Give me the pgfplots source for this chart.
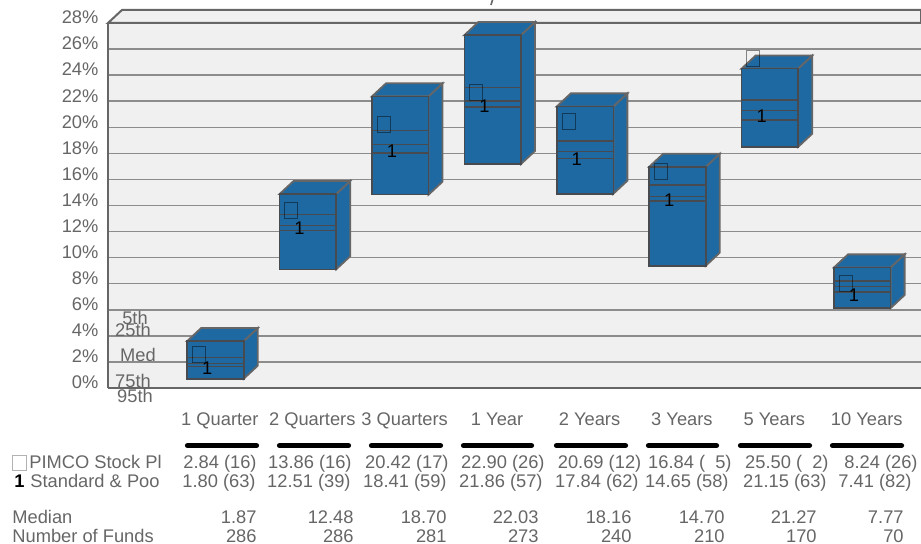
\documentclass[border=0pt]{standalone}
\usepackage{fontspec}
\setmainfont{Liberation Sans}
\usepackage{pgfplots}
\pgfplotsset{compat=1.18}
\usetikzlibrary{plotmarks}

\definecolor{wall}{HTML}{F0F0F0}
\definecolor{gridc}{HTML}{8C8C8C}
\definecolor{axisc}{HTML}{666666}
\definecolor{labelc}{HTML}{666666}
\definecolor{boxfill}{HTML}{1F69A3}
\definecolor{boxedge}{HTML}{474B50}

% tall hollow square, sits a little under the value like the source glyph
\pgfdeclareplotmark{tallsq}{%
  \pgfpathrectangle{\pgfpoint{-3.25pt}{-5.5pt}}{\pgfpoint{6.5pt}{8pt}}%
  \pgfusepathqstroke}

% x, 5th, 25th, median, 75th, 95th
\newcommand{\fundbox}[6]{%
  \addplot[fill=boxfill,draw=axisc,line width=0.9pt] coordinates
    {({#1+0.306},#2) ({#1+0.4575},{#2+1}) ({#1+0.4575},{#6+1}) ({#1+0.306},#6)} --cycle;
  \addplot[fill=boxfill,draw=axisc,line width=0.9pt] coordinates
    {({#1-0.306},#2) ({#1-0.1545},{#2+1}) ({#1+0.4575},{#2+1}) ({#1+0.306},#2)} --cycle;
  \addplot[fill=boxfill,draw=boxedge,line width=0.8pt] coordinates
    {({#1-0.306},#6) ({#1-0.306},#2) ({#1+0.306},#2) ({#1+0.306},#6)} --cycle;
  \addplot[draw=boxedge,line width=0.7pt] coordinates {({#1-0.306},#3) ({#1+0.306},#3)};
  \addplot[draw=boxedge,line width=0.7pt] coordinates {({#1-0.306},#4) ({#1+0.306},#4)};
  \addplot[draw=boxedge,line width=0.7pt] coordinates {({#1-0.306},#5) ({#1+0.306},#5)};
}

\begin{document}
\begin{tikzpicture}[font=\fontsize{9.15}{10}\selectfont]
\path[use as bounding box] (0,0) rectangle (460.5pt,272pt);
\begin{axis}[
    at={(54pt,78pt)},
    anchor=south west,
    scale only axis,
    width=406.5pt,
    height=182.5pt,
    xmin=-1.163, xmax=7.635,
    ymin=0, ymax=28,
    clip=false,
    axis lines*=left,
    axis line style={-,draw=axisc,line width=1.25pt},
    axis background/.style={fill=wall},
    xtick={0,...,7},
    xticklabels={1 Quarter,2 Quarters,3 Quarters,1 Year,2 Years,3 Years,5 Years,10 Years},
    ytick={0,2,...,28},
    yticklabel={\pgfmathprintnumber{\tick}\%},
    /pgf/number format/assume math mode=true,
    major tick length=0pt,
    ymajorgrids,
    major grid style={draw=gridc,line width=0.75pt},
    tick label style={text=labelc},
    yticklabel style={anchor=east,inner sep=0pt,xshift=-4.6pt,yshift=2.75pt},
    xticklabel style={anchor=base,inner sep=0pt,xshift=2.2pt,yshift=-19pt},
  ]
% top of the back wall
\addplot[fill=wall,draw=axisc,line width=1pt] coordinates
  {(-1.163,28) (-1.0115,29) (7.635,29) (7.635,28)} --cycle;

% x, 5th, 25th, median, 75th, 95th
\fundbox{0}{3.60}{2.35}{1.87}{1.65}{0.71}
\fundbox{1}{14.88}{13.32}{12.48}{12.07}{9.10}
\fundbox{2}{22.37}{19.73}{18.70}{18.02}{14.83}
\fundbox{3}{27.07}{23.03}{22.03}{21.57}{17.18}
\fundbox{4}{21.60}{18.94}{18.16}{17.60}{14.90}
\fundbox{5}{16.97}{15.57}{14.70}{14.34}{9.38}
\fundbox{6}{24.50}{22.10}{21.27}{20.55}{18.50}
\fundbox{7}{9.25}{8.20}{7.77}{7.36}{6.13}

% PIMCO Stock Pl
\addplot[only marks,mark=tallsq,mark options={line width=0.45pt,draw=black,draw opacity=0.45}] coordinates
  {(-0.18,2.84) (0.82,13.86) (1.82,20.42) (2.82,22.90) (3.82,20.69) (4.82,16.84) (5.82,25.50) (6.82,8.24)};
% Standard & Poor's
\addplot[only marks,mark=text,text mark={1},text mark as node=true,
    mark options={text=black,yshift=-1.8pt}] coordinates
  {(-0.09,1.80) (0.91,12.51) (1.91,18.41) (2.91,21.86) (3.91,17.84) (4.91,14.65) (5.91,21.15) (6.91,7.41)};
\end{axis}

\begin{scope}[shift={(0,272pt)},x=0.5pt,y=-0.5pt,
    every node/.style={inner sep=0pt,text=labelc}]
  % tail of the title cut off at the top edge
  \draw[labelc,line width=0.8pt] (491,5) -- (492.5,0);

  % percentile key
  \node[anchor=base] at (135,325) {5th};
  \node[anchor=base] at (133,337) {25th};
  \node[anchor=base] at (138,362) {Med};
  \node[anchor=base] at (133,388) {75th};
  \node[anchor=base] at (135,402.5) {95th};

  % rules under the period names
  \foreach \a/\b in {186/258,278/350,370/442,462/533,555/627,647/718,739/811,831/903}
    \draw[black,line width=2.6pt,line cap=round] (\a+1.5,445.7) -- (\b-1.5,445.7);

  % row names
  \draw[draw=gray!60,line width=0.4pt] (12.7,455) rectangle (26,470.7);
  \node[anchor=base west] at (29,469) {PIMCO Stock Pl};
  \node[anchor=base west,text=black] at (14,487.5) {\bfseries 1};
  \node[anchor=base west] at (30,487.5) {Standard \& Poo};
  \node[anchor=base west] at (12,524) {Median};
  \node[anchor=base west] at (12,542.7) {Number of Funds};

  % table rows: right edge / text
  \foreach \x/\t in {257/2.84 (16),352/13.86 (16),449/20.42 (17),545/22.90 (26),
      641.7/20.69 (12),732/16.84 (\ \ 5),829/25.50 (\ \ 2),918/8.24 (26)}
    \node[anchor=base east] at (\x,469) {\t};
  \foreach \x/\t in {256/1.80 (63),351/12.51 (39),447/18.41 (59),543/21.86 (57),
      639/17.84 (62),729/14.65 (58),827/21.15 (63),912/7.41 (82)}
    \node[anchor=base east] at (\x,487.5) {\t};
  \foreach \x/\t in {257/1.87,354/12.48,447/18.70,539/22.03,632/18.16,725/14.70,817/21.27,904/7.77}
    \node[anchor=base east] at (\x,524) {\t};
  \foreach \x/\t in {257/286,354/286,447/281,539/273,632/240,725/210,817/170,904/70}
    \node[anchor=base east] at (\x,542.7) {\t};
\end{scope}
\end{tikzpicture}
\end{document}
